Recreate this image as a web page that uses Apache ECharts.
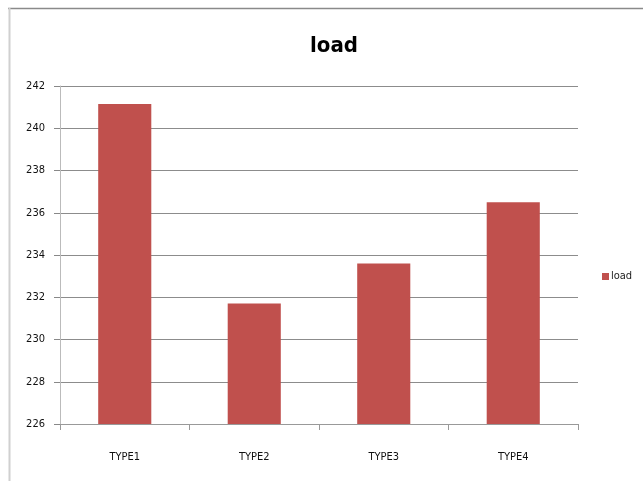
<!DOCTYPE html>
<html>
<head>
<meta charset="utf-8">
<script src="https://cdn.jsdelivr.net/npm/echarts@6/dist/echarts.min.js"></script>
<style>html,body{margin:0;padding:0;background:#fff;}#c{width:643px;height:481px;}</style>
</head>
<body>
<div id="c"></div>
<script>
var categories = ['TYPE1', 'TYPE2', 'TYPE3', 'TYPE4'];
var loadValues = [241.15, 231.7, 233.6, 236.5];
var yMin = 226, yMax = 242, yStep = 2;

var chart = echarts.init(document.getElementById('c'));
var font = '"DejaVu Sans Condensed", "Liberation Sans Narrow", sans-serif';
chart.setOption({
  animation: false,
  backgroundColor: '#ffffff',
  graphic: [
    { type: 'line', shape: { x1: 8, y1: 8.5, x2: 643, y2: 8.5 }, style: { stroke: '#8a8a8a', lineWidth: 1.5 } },
    { type: 'line', shape: { x1: 9.5, y1: 8, x2: 9.5, y2: 481 }, style: { stroke: '#d0d0d0', lineWidth: 2 } }
  ],
  title: {
    text: 'load',
    left: 329, top: 30, textAlign: 'center',
    textStyle: { fontFamily: font, fontWeight: 'bold', fontSize: 22, color: '#000' }
  },
  legend: {
    data: ['load'],
    left: 597, top: 266,
    itemWidth: 7, itemHeight: 7, itemGap: 2,
    icon: 'rect',
    textStyle: { fontFamily: font, fontSize: 11, color: '#222', padding: [0, 0, 0, -3] }
  },
  grid: { left: 60, right: 65, top: 86, bottom: 57 },
  xAxis: {
    type: 'category',
    data: categories,
    axisLine: { lineStyle: { color: '#999', width: 1 } },
    axisTick: { show: true, length: 6, inside: false, lineStyle: { color: '#999' } },
    axisLabel: { fontFamily: font, fontSize: 11, color: '#111', margin: 28 }
  },
  yAxis: {
    type: 'value',
    min: yMin, max: yMax, interval: yStep,
    axisLine: { show: true, lineStyle: { color: '#bbb', width: 1 } },
    axisTick: { show: true, length: 6, lineStyle: { color: '#888' } },
    splitLine: { lineStyle: { color: '#8c8c8c', width: 1 } },
    axisLabel: { fontFamily: font, fontSize: 11, color: '#111', margin: 15 }
  },
  series: [{
    name: 'load',
    type: 'bar',
    data: loadValues,
    barWidth: '41%',
    itemStyle: { color: '#C0504D' }
  }]
});
</script>
</body>
</html>
